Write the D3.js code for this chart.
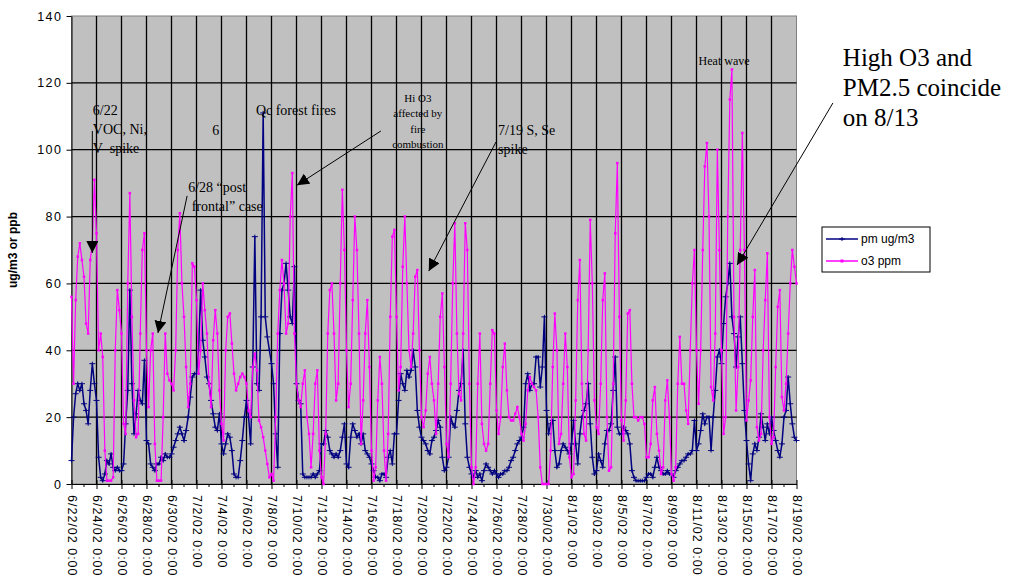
<!DOCTYPE html>
<html>
<head>
<meta charset="utf-8">
<script src="https://cdn.jsdelivr.net/npm/d3@7"></script>
<style>
  body { margin: 0; background: #fff; }
  svg { display: block; }
</style>
</head>
<body>
<svg id="chart" width="1015" height="577"></svg>
<script>
// hourly record thinned to one reading every 4 h (0,4,8,12,16,20h), one row per day
const startDate = "2002-06-22T00:00Z";
const endDate = "2002-08-19T00:00Z";
const stepHours = 4;

const pmValues = [
  7, 20, 27, 30, 28, 30,
  24, 22, 18, 28, 36, 30,
  25, 8, 2, 1, 3, 7,
  6, 9, 5, 4, 5, 4,
  4, 6, 18, 28, 58, 30,
  15, 21, 28, 25, 24, 37,
  13, 12, 6, 5, 4, 6,
  6, 8, 7, 9, 8, 8,
  9, 11, 13, 15, 17, 15,
  13, 16, 20, 26, 32, 33,
  33, 40, 58, 43, 38, 32,
  30, 25, 21, 17, 16, 21,
  12, 9, 12, 15, 14, 10,
  3, 2, 2, 7, 13, 20,
  25, 20, 12, 35, 74, 30,
  28, 50, 111, 50, 44, 40,
  36, 30, 15, 5, 45, 58,
  60, 66, 58, 50, 48, 65,
  30, 25, 24, 3, 2, 2,
  2, 2, 3, 2, 3, 4,
  12, 12, 16, 14, 10, 9,
  8, 9, 8, 10, 14, 18,
  6, 5, 14, 18, 16, 14,
  15, 12, 15, 10, 9, 8,
  6, 4, 2, 2, 1, 3,
  3, 2, 8, 10, 6, 15,
  15, 25, 33, 30, 28, 34,
  32, 34, 40, 35, 22, 17,
  14, 13, 12, 10, 9, 13,
  14, 16, 19, 17, 8, 4,
  5, 8, 20, 18, 17, 22,
  28, 30, 40, 18, 8, 5,
  3, 2, 4, 2, 3, 1,
  4, 6, 5, 4, 3, 4,
  3, 2, 3, 3, 4, 4,
  5, 7, 8, 10, 12, 13,
  14, 17, 30, 33, 28, 30,
  30, 38, 38, 29, 35, 50,
  22, 15, 18, 19, 10, 5,
  6, 10, 12, 11, 10, 9,
  12, 19, 12, 6, 15, 20,
  22, 24, 30, 18, 8, 3,
  4, 9, 7, 5, 12, 16,
  16, 18, 28, 38, 17, 15,
  15, 17, 16, 15, 12, 4,
  2, 1, 1, 1, 1, 1,
  2, 3, 3, 2, 5, 8,
  5, 4, 3, 3, 4, 3,
  3, 2, 4, 5, 6, 7,
  7, 8, 9, 9, 10, 19,
  10, 12, 16, 21, 18, 20,
  20, 10, 20, 28, 38, 40,
  36, 48, 56, 60, 66, 50,
  45, 35, 44, 50, 36, 22,
  13, 6, 1, 9, 12, 10,
  14, 21, 17, 13, 18, 15,
  20, 16, 13, 10, 8, 12,
  20, 22, 32, 24, 18, 14,
  13
];

const o3Values = [
  56, 30, 55, 68, 72, 67,
  62, 48, 45, 67, 72, 91,
  75, 40, 45, 38, 10, 1,
  1, 1, 2, 40, 58, 52,
  45, 18, 15, 60, 87, 50,
  25, 14, 15, 45, 70, 75,
  40, 23, 40, 45, 12, 1,
  1, 1, 20, 45, 33, 31,
  30, 28, 40, 70, 81, 60,
  50, 35, 23, 30, 66, 65,
  55, 33, 40, 60, 52, 45,
  30, 23, 43, 52, 45, 28,
  18, 13, 40, 50, 51, 42,
  33, 28, 30, 32, 33, 32,
  30, 22, 20, 35, 39, 34,
  19, 17, 14, 10, 6, 2,
  3, 1, 20, 45, 58, 67,
  60, 45, 48, 80, 93, 45,
  30, 25, 23, 30, 34, 20,
  15, 5, 15, 30, 34, 10,
  2, 0, 15, 45, 58, 60,
  45, 25, 30, 60, 88, 70,
  40, 23, 30, 55, 80, 70,
  45, 12, 25, 45, 55, 35,
  10, 1, 5, 25, 38, 30,
  10, 1, 15, 50, 74, 76,
  50, 28, 35, 65, 80, 60,
  40, 35, 45, 62, 64, 40,
  20, 17, 22, 33, 38, 30,
  25, 15, 30, 50, 57, 35,
  12, 8, 30, 60, 78, 45,
  27, 25, 45, 78, 70, 30,
  5, 0, 5, 30, 45, 18,
  12, 10, 12, 30, 46, 45,
  22, 15, 20, 35, 42, 28,
  20, 19, 19, 21, 23, 20,
  15, 13, 18, 28, 32, 30,
  29, 28, 20, 5, 0, 0,
  0, 0, 10, 35, 51, 40,
  12, 15, 30, 45, 35, 8,
  2, 3, 25, 55, 67, 30,
  15, 13, 40, 79, 60, 25,
  17, 15, 30, 55, 63, 20,
  4, 5, 30, 75, 96, 50,
  19, 13, 25, 51, 52, 30,
  20, 20, 19, 20, 20, 18,
  8, 8, 12, 25, 29, 15,
  10, 3, 5, 25, 31, 20,
  3, 1, 5, 30, 44, 30,
  30, 22, 18, 40, 60, 70,
  40, 24, 40, 70, 95, 102,
  80, 29, 25, 45, 100, 70,
  40, 15, 20, 80, 115, 124,
  50, 22, 35, 70, 105, 70,
  19, 25, 31, 50, 64, 17,
  13, 15, 40, 55, 69, 20,
  12, 14, 35, 53, 58, 26,
  22, 30, 45, 60, 70, 65,
  60
];

const yTicks = [0, 20, 40, 60, 80, 100, 120, 140];
const seriesNames = ["pm ug/m3", "o3 ppm"];
const yTitle = "ug/m3 or ppb";

// call-outs: anchored in data units (date, value)
const notes = [
  { at: "2002-06-23T17:00Z", v: 110.4, lines: ["6/22", "VOC, Ni,", "V  spike"], size: 14 },
  { at: "2002-07-03T06:00Z", v: 104.4, lines: ["6"], size: 14 },
  { at: "2002-07-01T08:00Z", v: 87.3, lines: ["6/28 \u201cpost", " frontal\u201d case"], size: 14 },
  { at: "2002-07-06T18:00Z", v: 110.4, lines: ["Qc forest fires"], size: 14 },
  { at: "2002-07-19T17:00Z", v: 114.3, lines: ["Hi O3", "affected by", "fire", "combustion"], size: 11, anchor: "middle", gap: 15.5 },
  { at: "2002-07-26T03:00Z", v: 104.4, lines: ["7/19 S, Se", "spike"], size: 14 },
  { at: "2002-08-13T05:00Z", v: 125.3, lines: ["Heat wave"], size: 12, anchor: "middle" },
  { at: "2002-08-22T17:00Z", v: 125.0, lines: ["High O3 and", "PM2.5 coincide", "on 8/13"], size: 25, gap: 30 }
];
const arrows = [
  { from: ["2002-06-23T16:00Z", 105.6], to: ["2002-06-23T16:00Z", 69.1] },
  { from: ["2002-07-01T06:00Z", 86.2], to: ["2002-06-28T22:00Z", 45.2] },
  { from: ["2002-07-16T18:00Z", 105.6], to: ["2002-07-10T01:00Z", 89.4] },
  { from: ["2002-07-25T23:00Z", 102.3], to: ["2002-07-20T14:00Z", 63.7] },
  { from: ["2002-08-21T22:00Z", 114.0], to: ["2002-08-14T06:00Z", 65.5] }
];

const svg = d3.select("#chart");
const start = new Date(startDate);
const end = new Date(endDate);

const x = d3.scaleUtc().domain([start, end]).range([71.5, 796.5]);
const y = d3.scaleLinear().domain([0, 140]).range([484, 16]);
const [x0, x1] = x.range();
const [y0, y1] = y.range();

const toPoints = (vals) =>
  vals.map((v, i) => ({ t: d3.utcHour.offset(start, i * stepHours), v }));
const pm = toPoints(pmValues);
const o3 = toPoints(o3Values);

const days = d3.utcDay.range(start, d3.utcHour.offset(end, 1));
const majorDays = days.filter((_d, i) => i % 2 == 0);
const minorDays = days.filter((_d, i) => i % 2 == 1);

// plot area
svg.append("rect")
  .attr("x", x0).attr("y", y1)
  .attr("width", x1 - x0).attr("height", y0 - y1)
  .attr("fill", "#c0c0c0")
  .attr("stroke", "#808080");

// grid
const grid = svg.append("g").attr("stroke", "#000").attr("stroke-width", 1.3);
grid.selectAll("line.h")
  .data(yTicks.slice(1, -1))
  .join("line")
  .attr("x1", x0).attr("x2", x1)
  .attr("y1", (d) => y(d)).attr("y2", (d) => y(d));
grid.selectAll("line.v")
  .data(majorDays.slice(1, -1))
  .join("line")
  .attr("x1", (d) => x(d)).attr("x2", (d) => x(d))
  .attr("y1", y1).attr("y2", y0);

// y axis
const yAxis = svg.append("g")
  .attr("transform", `translate(${x0},0)`)
  .call(d3.axisLeft(y).tickValues(yTicks).tickSize(5).tickPadding(4).tickSizeOuter(0));
yAxis.select(".domain").attr("stroke", "#000");
yAxis.selectAll("text")
  .attr("font-family", "Liberation Sans, Arial, sans-serif")
  .attr("font-size", 12.5)
  .attr("letter-spacing", 1.5)
  .attr("fill", "#000");

svg.append("text")
  .attr("transform", `translate(17,${(y0 + y1) / 2}) rotate(-90)`)
  .attr("text-anchor", "middle")
  .attr("font-family", "Liberation Sans, Arial, sans-serif")
  .attr("font-size", 12)
  .attr("font-weight", "bold")
  .text(yTitle);

// x axis
const fmt = d3.utcFormat("%-m/%-d/%y %-H:%M");
const xAxis = svg.append("g")
  .attr("transform", `translate(0,${y0})`)
  .call(d3.axisBottom(x).tickValues(majorDays).tickFormat(fmt).tickSize(5).tickSizeOuter(0));
xAxis.select(".domain").attr("stroke", "#000");
xAxis.selectAll(".tick line").attr("y1", -4);
xAxis.selectAll("text")
  .attr("transform", "rotate(90)")
  .attr("text-anchor", "start")
  .attr("x", 11)
  .attr("y", 0)
  .attr("dy", "0.35em")
  .attr("font-family", "Liberation Sans, Arial, sans-serif")
  .attr("font-size", 12.5)
  .attr("letter-spacing", 1)
  .attr("fill", "#000");
xAxis.selectAll("line.minor")
  .data(minorDays)
  .join("line")
  .attr("class", "minor")
  .attr("stroke", "#000")
  .attr("x1", (d) => x(d)).attr("x2", (d) => x(d))
  .attr("y1", 0).attr("y2", 3);

// series
const line = d3.line().x((d) => x(d.t)).y((d) => y(d.v));

svg.append("path")
  .datum(pm)
  .attr("d", line)
  .attr("fill", "none")
  .attr("stroke", "#000080")
  .attr("stroke-width", 1.5);
svg.append("g")
  .selectAll("path")
  .data(pm)
  .join("path")
  .attr("transform", (d) => `translate(${x(d.t)},${y(d.v)})`)
  .attr("d", "M-3,0H3M0,-2V2")
  .attr("stroke", "#000080")
  .attr("stroke-width", 1);

svg.append("path")
  .datum(o3)
  .attr("d", line)
  .attr("fill", "none")
  .attr("stroke", "#ff00ff")
  .attr("stroke-width", 1.2);
svg.append("g")
  .selectAll("rect")
  .data(o3)
  .join("rect")
  .attr("x", (d) => x(d.t) - 1.25)
  .attr("y", (d) => y(d.v) - 1.25)
  .attr("width", 2.5)
  .attr("height", 2.5)
  .attr("fill", "#ff00ff");

// annotations
svg.append("defs")
  .append("marker")
  .attr("id", "head")
  .attr("viewBox", "0 0 12 12")
  .attr("refX", 12).attr("refY", 6)
  .attr("markerWidth", 12).attr("markerHeight", 12)
  .attr("markerUnits", "userSpaceOnUse")
  .attr("orient", "auto")
  .append("path")
  .attr("d", "M0,0L12,6L0,12Z")
  .attr("fill", "#000");

svg.append("g")
  .selectAll("line")
  .data(arrows)
  .join("line")
  .attr("x1", (d) => x(new Date(d.from[0]))).attr("y1", (d) => y(d.from[1]))
  .attr("x2", (d) => x(new Date(d.to[0]))).attr("y2", (d) => y(d.to[1]))
  .attr("stroke", "#000")
  .attr("stroke-width", 1)
  .attr("marker-end", "url(#head)");

const noteG = svg.append("g")
  .selectAll("text")
  .data(notes)
  .join("text")
  .attr("font-family", "Liberation Serif, Times New Roman, serif")
  .attr("font-size", (d) => d.size)
  .attr("text-anchor", (d) => d.anchor || "start")
  .attr("fill", "#000");
noteG.selectAll("tspan")
  .data((d) => d.lines.map((s, i) => ({ s, i, d })))
  .join("tspan")
  .attr("x", (e) => x(new Date(e.d.at)))
  .attr("y", (e) => y(e.d.v) + e.i * (e.d.gap || 19))
  .attr("xml:space", "preserve")
  .style("white-space", "pre")
  .text((e) => e.s);

// legend
const legend = svg.append("g").attr("transform", "translate(822,227)");
legend.append("rect")
  .attr("width", 108).attr("height", 45)
  .attr("fill", "#fff").attr("stroke", "#000");
const items = legend.selectAll("g")
  .data(seriesNames)
  .join("g")
  .attr("transform", (_d, i) => `translate(4,${12 + i * 22})`);
items.append("line")
  .attr("x1", 0).attr("x2", 32)
  .attr("stroke-width", 1.5)
  .attr("stroke", (_d, i) => (i == 0 ? "#000080" : "#ff00ff"));
items.append("path")
  .attr("d", (_d, i) => (i == 0 ? "M13,0H19M16,-2V2" : "M14.5,-1.5H17.5V1.5H14.5Z"))
  .attr("stroke", (_d, i) => (i == 0 ? "#000080" : "none"))
  .attr("fill", "#ff00ff");
items.append("text")
  .attr("x", 35).attr("dy", "0.35em")
  .attr("font-family", "Liberation Sans, Arial, sans-serif")
  .attr("font-size", 12)
  .text((d) => d);
</script>
</body>
</html>
